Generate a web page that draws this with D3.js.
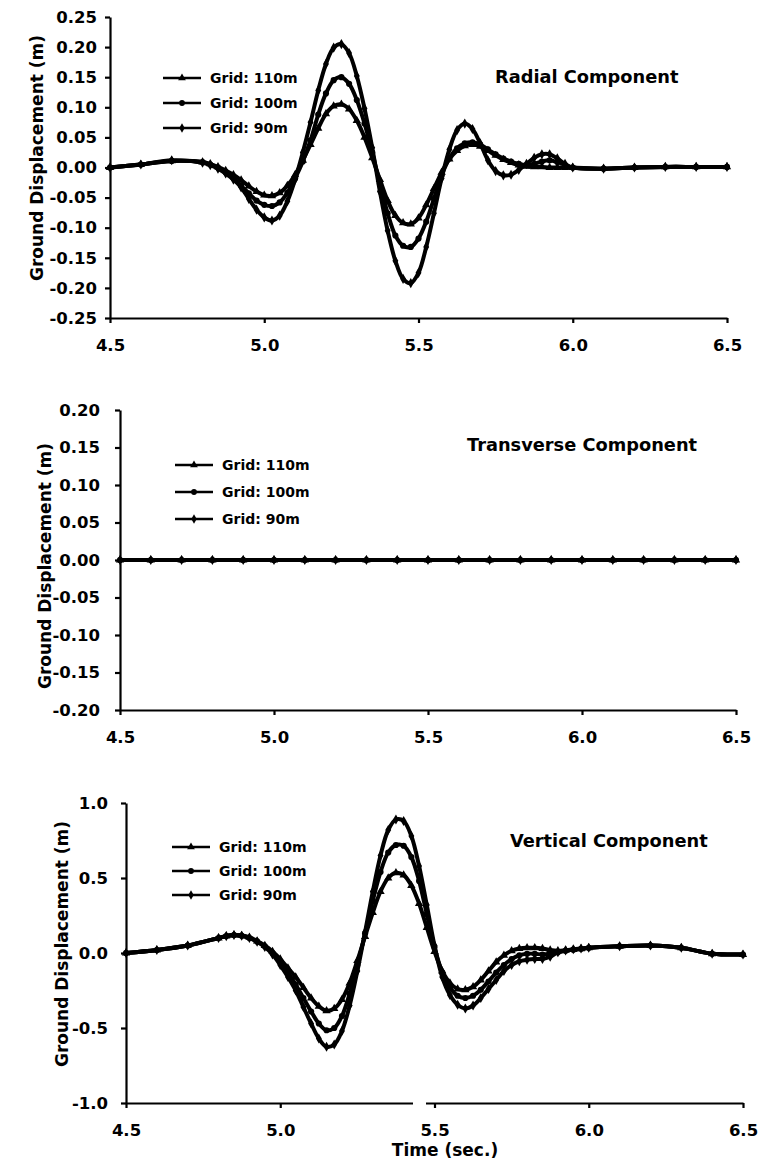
<!DOCTYPE html>
<html>
<head>
<meta charset="utf-8">
<script src="https://cdn.jsdelivr.net/npm/d3@7"></script>
<style>
body { margin: 0; background: #ffffff; }
.axis path, .axis line { stroke: #000; stroke-width: 2.2; }
.axis text { font-family: "DejaVu Sans", sans-serif; font-weight: bold; font-size: 16.5px; fill: #000; }
.yLabel, .legendText, .xTitle { font-family: "DejaVu Sans", sans-serif; font-weight: bold; fill: #000; }
.title { font-family: "DejaVu Sans", sans-serif; font-weight: bold; font-size: 17.8px; fill: #000; }
</style>
</head>
<body>
<script>
//time samples (sec.)
var radialTime = [4.5,4.6,4.7,4.8,4.825,4.85,4.875,4.9,4.925,4.95,4.975,5.0,5.025,5.05,5.075,5.1,5.125,5.15,5.175,5.2,5.225,5.25,5.275,5.3,5.325,5.35,5.375,5.4,5.425,5.45,5.475,5.5,5.525,5.55,5.575,5.6,5.625,5.65,5.675,5.7,5.725,5.75,5.775,5.8,5.825,5.85,5.875,5.9,5.925,5.95,5.975,6.0,6.1,6.2,6.3,6.4,6.5];
var radial110 = [0.000,0.005,0.011,0.009,0.006,0.001,-0.005,-0.012,-0.021,-0.031,-0.040,-0.046,-0.047,-0.042,-0.030,-0.012,0.012,0.038,0.065,0.089,0.102,0.105,0.097,0.078,0.050,0.016,-0.020,-0.055,-0.080,-0.092,-0.094,-0.084,-0.062,-0.035,-0.008,0.014,0.028,0.036,0.038,0.035,0.028,0.020,0.013,0.008,0.004,0.002,0.001,0.001,0.000,0.000,0.000,0.000,-0.002,0.000,0.001,0.001,0.001];
var radial100 = [0.000,0.005,0.011,0.009,0.005,0.000,-0.008,-0.018,-0.030,-0.043,-0.055,-0.062,-0.064,-0.058,-0.042,-0.018,0.010,0.045,0.088,0.123,0.145,0.150,0.139,0.112,0.073,0.025,-0.027,-0.076,-0.113,-0.130,-0.132,-0.118,-0.090,-0.052,-0.013,0.015,0.032,0.040,0.042,0.038,0.030,0.022,0.015,0.010,0.006,0.004,0.006,0.010,0.012,0.009,0.004,0.000,-0.002,0.000,0.001,0.001,0.001];
var radial90 = [0.000,0.005,0.012,0.008,0.004,-0.002,-0.010,-0.020,-0.033,-0.052,-0.070,-0.083,-0.088,-0.080,-0.056,-0.020,0.025,0.075,0.128,0.172,0.199,0.205,0.190,0.152,0.098,0.033,-0.040,-0.105,-0.155,-0.185,-0.192,-0.175,-0.132,-0.076,-0.018,0.030,0.062,0.073,0.064,0.040,0.012,-0.006,-0.013,-0.012,-0.004,0.006,0.016,0.022,0.022,0.015,0.006,0.000,-0.002,0.000,0.001,0.001,0.001];

var transTime = [4.5,4.6,4.7,4.8,4.9,5.0,5.1,5.2,5.3,5.4,5.5,5.6,5.7,5.8,5.9,6.0,6.1,6.2,6.3,6.4,6.5];
var trans110 = [0,0,0,0,0,0,0,0,0,0,0,0,0,0,0,0,0,0,0,0,0];
var trans100 = [0,0,0,0,0,0,0,0,0,0,0,0,0,0,0,0,0,0,0,0,0];
var trans90 = [0,0,0,0,0,0,0,0,0,0,0,0,0,0,0,0,0,0,0,0,0];

var vertTime = [4.5,4.6,4.7,4.8,4.825,4.85,4.875,4.9,4.925,4.95,4.975,5.0,5.025,5.05,5.075,5.1,5.125,5.15,5.175,5.2,5.225,5.25,5.275,5.3,5.325,5.35,5.375,5.4,5.425,5.45,5.475,5.5,5.525,5.55,5.575,5.6,5.625,5.65,5.675,5.7,5.725,5.75,5.775,5.8,5.825,5.85,5.875,5.9,5.925,5.95,5.975,6.0,6.1,6.2,6.3,6.4,6.5];
var vert110 = [0.00,0.02,0.05,0.10,0.113,0.12,0.117,0.105,0.080,0.050,0.010,-0.040,-0.100,-0.160,-0.230,-0.300,-0.355,-0.385,-0.370,-0.310,-0.200,-0.050,0.110,0.270,0.410,0.500,0.535,0.520,0.450,0.330,0.170,0.010,-0.120,-0.200,-0.240,-0.245,-0.225,-0.180,-0.120,-0.060,-0.015,0.015,0.030,0.035,0.035,0.030,0.020,0.015,0.018,0.022,0.028,0.035,0.045,0.050,0.035,-0.005,-0.010];
var vert100 = [0.00,0.02,0.05,0.10,0.113,0.12,0.115,0.100,0.077,0.045,0.000,-0.060,-0.130,-0.210,-0.300,-0.390,-0.470,-0.515,-0.500,-0.420,-0.270,-0.080,0.130,0.350,0.540,0.670,0.720,0.715,0.640,0.480,0.260,0.040,-0.130,-0.230,-0.285,-0.300,-0.285,-0.245,-0.190,-0.130,-0.080,-0.040,-0.015,-0.005,-0.005,-0.010,-0.005,0.005,0.015,0.022,0.028,0.035,0.045,0.050,0.035,-0.005,-0.010];
var vert90 = [0.00,0.02,0.05,0.10,0.113,0.12,0.115,0.100,0.075,0.040,-0.010,-0.080,-0.160,-0.250,-0.360,-0.470,-0.570,-0.625,-0.610,-0.520,-0.350,-0.120,0.140,0.410,0.650,0.820,0.890,0.880,0.780,0.580,0.320,0.050,-0.160,-0.280,-0.345,-0.370,-0.350,-0.300,-0.240,-0.180,-0.120,-0.080,-0.055,-0.045,-0.040,-0.040,-0.025,0.005,0.018,0.025,0.030,0.035,0.045,0.050,0.035,-0.005,-0.010];

//tick values and texts
var xTicks = [4.5, 5.0, 5.5, 6.0, 6.5];
var radialTicks = [-0.25,-0.20,-0.15,-0.10,-0.05,0.00,0.05,0.10,0.15,0.20,0.25];
var transTicks = [-0.20,-0.15,-0.10,-0.05,0.00,0.05,0.10,0.15,0.20];
var vertTicks = [-1.0,-0.5,0.0,0.5,1.0];
var gridNames = ["Grid: 110m", "Grid: 100m", "Grid: 90m"];
var titles = ["Radial Component", "Transverse Component", "Vertical Component"];
var yLabelText = "Ground Displacement (m)";
var xLabelText = "Time (sec.)";

window.onload = function(){

    var w = 759, h = 1172;

    var svg = d3.select("body")
        .append("svg")
        .attr("width", w)
        .attr("height", h)
        .attr("class", "container");

    //layout of the three panels (pixels only, values live in the arrays above)
    var panels = [
        {time: radialTime, series: [radial110, radial100, radial90], ticks: radialTicks, dec: 2, dom: [-0.25, 0.25],
         xr: [110, 727], yr: [318, 17], pad: 8, title: titles[0], tx: 495, ty: 83, lx: 163, ly: 78, ls: 25, labX: 43, labY: 158},
        {time: transTime, series: [trans110, trans100, trans90], ticks: transTicks, dec: 2, dom: [-0.20, 0.20],
         xr: [120, 736], yr: [710, 410], pad: 15, title: titles[1], tx: 467, ty: 451, lx: 175, ly: 465, ls: 27, labX: 51, labY: 566},
        {time: vertTime, series: [vert110, vert100, vert90], ticks: vertTicks, dec: 1, dom: [-1.0, 1.0],
         xr: [126, 743], yr: [1103, 803], pad: 13, title: titles[2], tx: 510, ty: 847, lx: 172, ly: 847, ls: 24, labX: 68, labY: 944}
    ];

    //one marker shape per grid size
    var shapes = [d3.symbolTriangle, d3.symbolCircle, d3.symbolDiamond];

    panels.forEach(function(p){

        var x = d3.scaleLinear()
            .domain([4.5, 6.5])
            .range(p.xr);

        var y = d3.scaleLinear()
            .domain(p.dom)
            .range(p.yr);

        var g = svg.append("g").attr("class", "panel");

        //curves first so the axes sit on top
        var line = d3.line()
            .x(function(d){ return x(d[0]); })
            .y(function(d){ return y(d[1]); })
            .curve(d3.curveCatmullRom);

        p.series.forEach(function(vals, k){
            var pts = p.time.map(function(t, i){ return [t, vals[i]]; });

            g.append("path")
                .datum(pts)
                .attr("fill", "none")
                .attr("stroke", "#000")
                .attr("stroke-width", 4)
                .attr("stroke-linecap", "round")
                .attr("d", line);

            g.selectAll(".mark" + k)
                .data(pts)
                .enter()
                .append("path")
                .attr("class", "mark" + k)
                .attr("transform", function(d){
                    return "translate(" + x(d[0]) + "," + y(d[1]) + ")";
                })
                .attr("d", d3.symbol().type(shapes[k]).size(30))
                .style("fill", "#000");
        });

        //x axis
        g.append("g")
            .attr("class", "axis")
            .attr("transform", "translate(0," + p.yr[0] + ")")
            .call(d3.axisBottom(x)
                .tickValues(xTicks)
                .tickFormat(function(d){ return d.toFixed(1); })
                .tickSize(5)
                .tickSizeOuter(0)
                .tickPadding(16));

        //y axis
        g.append("g")
            .attr("class", "axis")
            .attr("transform", "translate(" + p.xr[0] + ",0)")
            .call(d3.axisLeft(y)
                .tickValues(p.ticks)
                .tickFormat(function(d){ return d.toFixed(p.dec); })
                .tickSize(5)
                .tickSizeOuter(0)
                .tickPadding(p.pad));

        //rotated y label
        g.append("text")
            .attr("class", "yLabel")
            .attr("text-anchor", "middle")
            .attr("transform", "translate(" + p.labX + "," + p.labY + ") rotate(-90)")
            .style("font-size", "17px")
            .text(yLabelText);

        //panel title
        g.append("text")
            .attr("class", "title")
            .attr("x", p.tx)
            .attr("y", p.ty)
            .text(p.title);

        //legend rows
        var leg = g.selectAll(".legRow")
            .data(gridNames)
            .enter()
            .append("g")
            .attr("class", "legRow")
            .attr("transform", function(d, i){
                return "translate(" + p.lx + "," + (p.ly + i * p.ls) + ")";
            });

        leg.append("line")
            .attr("x1", 0)
            .attr("x2", 38)
            .attr("stroke", "#000")
            .attr("stroke-width", 2.5);

        leg.append("path")
            .attr("transform", "translate(19,0)")
            .attr("d", function(d, i){ return d3.symbol().type(shapes[i]).size(26)(); })
            .style("fill", "#000");

        leg.append("text")
            .attr("class", "legendText")
            .attr("x", 47)
            .attr("y", 5)
            .style("font-size", "14px")
            .text(function(d){ return d; });
    });

    //small break in the bottom axis line of the scan
    svg.append("rect")
        .attr("x", 413)
        .attr("y", 1100)
        .attr("width", 13)
        .attr("height", 6)
        .style("fill", "#fff");

    //x axis title
    svg.append("text")
        .attr("class", "xTitle")
        .attr("text-anchor", "middle")
        .attr("x", 445)
        .attr("y", 1156)
        .style("font-size", "17px")
        .text(xLabelText);
};
</script>
</body>
</html>
